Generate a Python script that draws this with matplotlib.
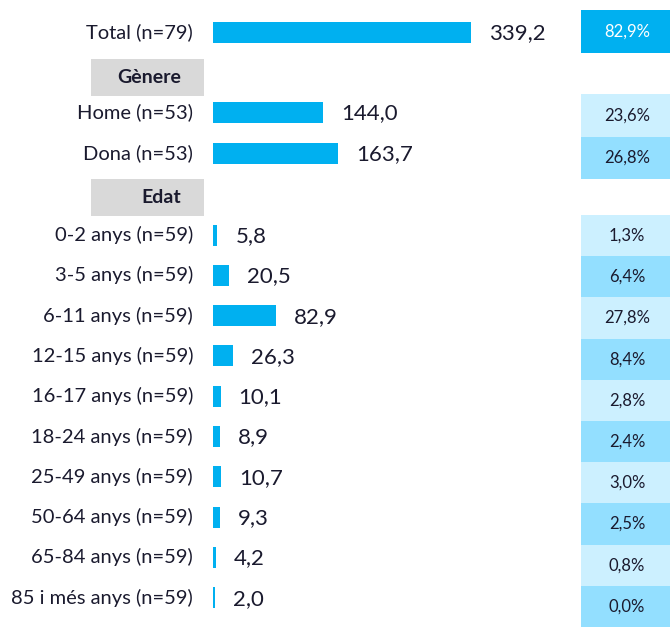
import matplotlib
matplotlib.use("Agg")
import matplotlib.pyplot as plt
from matplotlib.patches import Rectangle

############### DATA ###################

total_label = "Total (n=79)"
total_value = 339.2
total_pct = "82,9%"

genere_labels = ["Home (n=53)", "Dona (n=53)"]
genere_values = [144.0, 163.7]
genere_pct = ["23,6%", "26,8%"]

edat_labels = ["0-2 anys (n=59)", "3-5 anys (n=59)", "6-11 anys (n=59)",
               "12-15 anys (n=59)", "16-17 anys (n=59)", "18-24 anys (n=59)",
               "25-49 anys (n=59)", "50-64 anys (n=59)", "65-84 anys (n=59)",
               "85 i més anys (n=59)"]
edat_values = [5.8, 20.5, 82.9, 26.3, 10.1, 8.9, 10.7, 9.3, 4.2, 2.0]
edat_pct = ["1,3%", "6,4%", "27,8%", "8,4%", "2,8%", "2,4%",
            "3,0%", "2,5%", "0,8%", "0,0%"]

############### STYLE ###################

plt.rcParams['font.family'] = ['Lato', 'DejaVu Sans']

W, H = 670, 627
x0 = 213          # pixel where bars start
scale = 0.762     # pixels per unit
bar_col = "#00B0F0"
light = "#CCF0FF"
mid = "#93DFFF"
grey = "#D9D9D9"
txt = "#1A1A2E"

def px(v):
  # pixel x -> data x
  return (v - x0) / scale

fig = plt.figure(figsize=(W / 100, H / 100), dpi=100)
ax = fig.add_axes([0, 0, 1, 1])
ax.set_xlim(px(0), px(W))
ax.set_ylim(H, 0)
ax.axis("off")

bar_h = 21

def draw_row(y, label, value, pct, box_top, box_h, box_col, pct_col):
  ax.barh(y, value, height=bar_h, left=0, color=bar_col)
  ax.text(px(193), y, label, ha="right", va="center", fontsize=14.5, color=txt)
  ax.text(value + px(x0 + 18), y + 1, f"{value:.1f}".replace(".", ","),
          ha="left", va="center", fontsize=16, color=txt)
  ax.add_patch(Rectangle((px(581), box_top), px(W) - px(581), box_h,
                         color=box_col, lw=0))
  ax.text(px(627), box_top + box_h / 2, pct, ha="center", va="center",
          fontsize=12, color=pct_col)

# total
draw_row(32, total_label, total_value, total_pct, 10, 43, bar_col, "white")

# headers
for top, name in [(59, "Gènere"), (179, "Edat")]:
  ax.add_patch(Rectangle((px(91), top), px(204) - px(91), 37, color=grey, lw=0))
  ax.text(px(181), top + 18.5, name, ha="right", va="center",
          fontsize=14, fontweight="bold", color=txt)

# gender
for i, (lab, val, pc) in enumerate(zip(genere_labels, genere_values, genere_pct)):
  draw_row(112 + 41 * i, lab, val, pc, 94 + 42.5 * i, 42.5,
           light if i % 2 == 0 else mid, txt)

# age
step = 41.2
for i, (lab, val, pc) in enumerate(zip(edat_labels, edat_values, edat_pct)):
  draw_row(235 + 40.3 * i, lab, val, pc, 215 + step * i, step,
           light if i % 2 == 0 else mid, txt)

plt.savefig("out.png", dpi=100)
